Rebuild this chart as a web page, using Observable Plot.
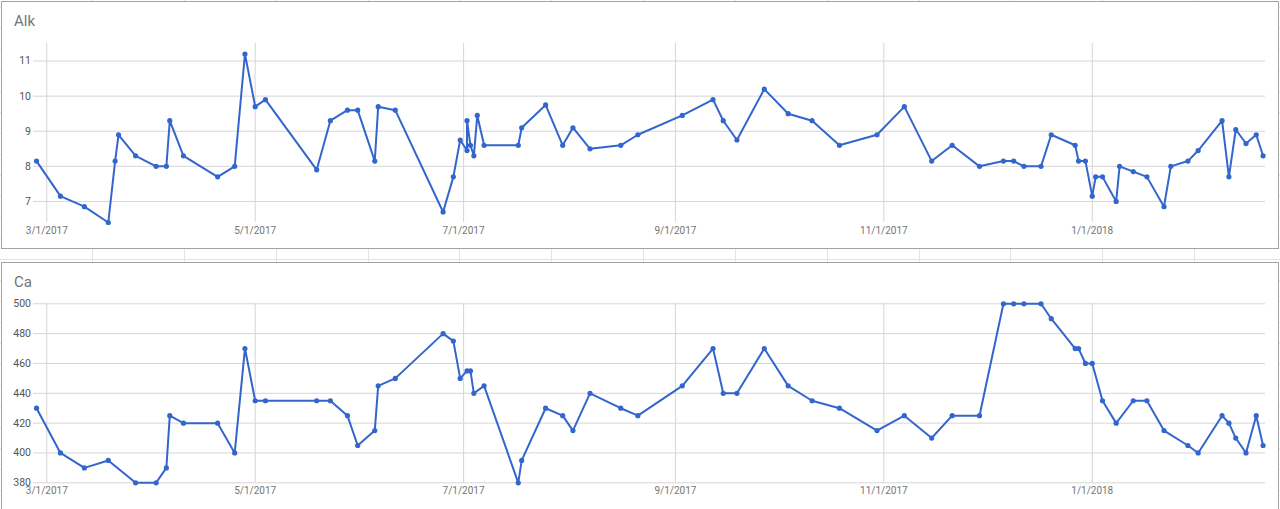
<!DOCTYPE html>
<html>
<head>
<meta charset="utf-8">
<script src="https://cdn.jsdelivr.net/npm/d3@7"></script>
<script src="https://cdn.jsdelivr.net/npm/@observablehq/plot@0.6"></script>
<style>
  html, body { margin: 0; padding: 0; }
  body { width: 1280px; height: 509px; overflow: hidden; position: relative; background: #fff; font-family: Roboto, "Noto Sans", Arial, sans-serif; }
  .sheetline { position: absolute; background: #e3e3e3; }
  .box { position: absolute; box-sizing: border-box; background: #fff; border: 1px solid #a3a3a3; }
  .title { position: absolute; font-family: Roboto, sans-serif; font-size: 15px; color: #757575; line-height: 1; }
  .chart { position: absolute; left: 0; }
</style>
</head>
<body>
<div id="bg"></div>
<div class="box" style="left:1px; top:1px; width:1278px; height:248px;"></div>
<div class="box" style="left:1px; top:262px; width:1278px; height:260px;"></div>
<div class="title" style="left:14px; top:14px;">Alk</div>
<div class="title" style="left:14px; top:275px;">Ca</div>
<div id="alk" class="chart" style="top:0px;"></div>
<div id="ca" class="chart" style="top:250px;"></div>
<script>
// ---- data ----
const alkDates = ["2017-02-26","2017-03-05","2017-03-12","2017-03-19","2017-03-21","2017-03-22","2017-03-27","2017-04-02","2017-04-05","2017-04-06","2017-04-10","2017-04-20","2017-04-25","2017-04-28","2017-05-01","2017-05-04","2017-05-19","2017-05-23","2017-05-28","2017-05-31","2017-06-05","2017-06-06","2017-06-11","2017-06-25","2017-06-28","2017-06-30","2017-07-02","2017-07-02","2017-07-03","2017-07-04","2017-07-05","2017-07-07","2017-07-17","2017-07-18","2017-07-25","2017-07-30","2017-08-02","2017-08-07","2017-08-16","2017-08-21","2017-09-03","2017-09-12","2017-09-15","2017-09-19","2017-09-27","2017-10-04","2017-10-11","2017-10-19","2017-10-30","2017-11-07","2017-11-15","2017-11-21","2017-11-29","2017-12-06","2017-12-09","2017-12-12","2017-12-17","2017-12-20","2017-12-27","2017-12-28","2017-12-30","2018-01-01","2018-01-02","2018-01-04","2018-01-08","2018-01-09","2018-01-13","2018-01-17","2018-01-22","2018-01-24","2018-01-29","2018-02-01","2018-02-08","2018-02-10","2018-02-12","2018-02-15","2018-02-18","2018-02-20"];
const alkValues = [8.15,7.15,6.85,6.4,8.15,8.9,8.3,8.0,8.0,9.3,8.3,7.7,8.0,11.2,9.7,9.9,7.9,9.3,9.6,9.6,8.15,9.7,9.6,6.7,7.7,8.75,8.45,9.3,8.6,8.3,9.45,8.6,8.6,9.1,9.75,8.6,9.1,8.5,8.6,8.9,9.45,9.9,9.3,8.75,10.2,9.5,9.3,8.6,8.9,9.7,8.15,8.6,8.0,8.15,8.15,8.0,8.0,8.9,8.6,8.15,8.15,7.15,7.7,7.7,7.0,8.0,7.85,7.7,6.85,8.0,8.15,8.45,9.3,7.7,9.05,8.65,8.9,8.3];

const caDates = ["2017-02-26","2017-03-05","2017-03-12","2017-03-19","2017-03-27","2017-04-02","2017-04-05","2017-04-06","2017-04-10","2017-04-20","2017-04-25","2017-04-28","2017-05-01","2017-05-04","2017-05-19","2017-05-23","2017-05-28","2017-05-31","2017-06-05","2017-06-06","2017-06-11","2017-06-25","2017-06-28","2017-06-30","2017-07-02","2017-07-03","2017-07-04","2017-07-07","2017-07-17","2017-07-18","2017-07-25","2017-07-30","2017-08-02","2017-08-07","2017-08-16","2017-08-21","2017-09-03","2017-09-12","2017-09-15","2017-09-19","2017-09-27","2017-10-04","2017-10-11","2017-10-19","2017-10-30","2017-11-07","2017-11-15","2017-11-21","2017-11-29","2017-12-06","2017-12-09","2017-12-12","2017-12-17","2017-12-20","2017-12-27","2017-12-28","2017-12-30","2018-01-01","2018-01-04","2018-01-08","2018-01-13","2018-01-17","2018-01-22","2018-01-29","2018-02-01","2018-02-08","2018-02-10","2018-02-12","2018-02-15","2018-02-18","2018-02-20"];
const caValues = [430,400,390,395,380,380,390,425,420,420,400,470,435,435,435,435,425,405,415,445,450,480,475,450,455,455,440,445,380,395,430,425,415,440,430,425,445,470,440,440,470,445,435,430,415,425,410,425,425,500,500,500,500,490,470,470,460,460,435,420,435,435,415,405,400,425,420,410,400,425,405];

const xTickDates = ["2017-03-01","2017-05-01","2017-07-01","2017-09-01","2017-11-01","2018-01-01"];
const xTickLabels = ["3/1/2017","5/1/2017","7/1/2017","9/1/2017","11/1/2017","1/1/2018"];
const alkTicks = [7, 8, 9, 10, 11];
const caTicks = [380, 400, 420, 440, 460, 480, 500];

// ---- spreadsheet background grid ----
const bg = document.getElementById("bg");
for (let i = 0; i < 14; i++) {
  const d = document.createElement("div");
  d.className = "sheetline";
  d.style.left = (92 + i * 91.84).toFixed(1) + "px";
  d.style.top = "0px"; d.style.width = "1px"; d.style.height = "509px";
  bg.appendChild(d);
}
for (let i = 0; i < 25; i++) {
  const d = document.createElement("div");
  d.className = "sheetline";
  d.style.left = "0px"; d.style.width = "1280px"; d.style.height = "1px";
  d.style.top = (259 - 21 * 12 + i * 21) + "px";
  bg.appendChild(d);
}

const xTicks = xTickDates.map(s => new Date(s));
const xDomain = [new Date("2017-02-25T02:40:00Z"), new Date("2018-02-20T17:00:00Z")];
const blue = "#3366cc";
const gridColor = "#d6d6d6";

function makeChart(dates, values, yDomain, yTicks, opts) {
  const data = dates.map((d, i) => ({date: new Date(d), value: values[i]}));
  const chart = Plot.plot({
    width: 1280,
    height: opts.height,
    marginLeft: 33,
    marginRight: 15,
    marginTop: opts.marginTop,
    marginBottom: opts.marginBottom,
    style: {background: "transparent", overflow: "visible", fontFamily: "Roboto, sans-serif", fontSize: "10px"},
    x: {type: "utc", domain: xDomain, ticks: xTicks, tickFormat: d => xTickLabels[xTicks.findIndex(t => +t === +d)], tickSize: 0, tickPadding: 4.5, label: null},
    y: {domain: yDomain, ticks: yTicks, tickFormat: d => String(d), tickSize: 0, tickPadding: 2.5, label: null},
    marks: [
      Plot.ruleY(yTicks, {stroke: gridColor, strokeWidth: 1}),
      Plot.ruleX(xTicks, {stroke: gridColor, strokeWidth: 1}),
      Plot.line(data, {x: "date", y: "value", stroke: blue, strokeWidth: 2}),
      Plot.dot(data, {x: "date", y: "value", r: 2.6, fill: blue, stroke: "none"})
    ]
  });
  d3.select(chart).selectAll('[aria-label^="x-axis"] text').style("fill", "#757575").style("font-size", "10px");
  d3.select(chart).selectAll('[aria-label^="y-axis"] text').style("fill", "#555").style("font-size", "10.5px");
  return chart;
}

document.getElementById("alk").appendChild(
  makeChart(alkDates, alkValues, [6.4, 11.5], alkTicks, {height: 250, marginTop: 43, marginBottom: 28})
);
document.getElementById("ca").appendChild(
  makeChart(caDates, caValues, [380, 500], caTicks, {height: 259, marginTop: 53.3, marginBottom: 26.7})
);
</script>
</body>
</html>
